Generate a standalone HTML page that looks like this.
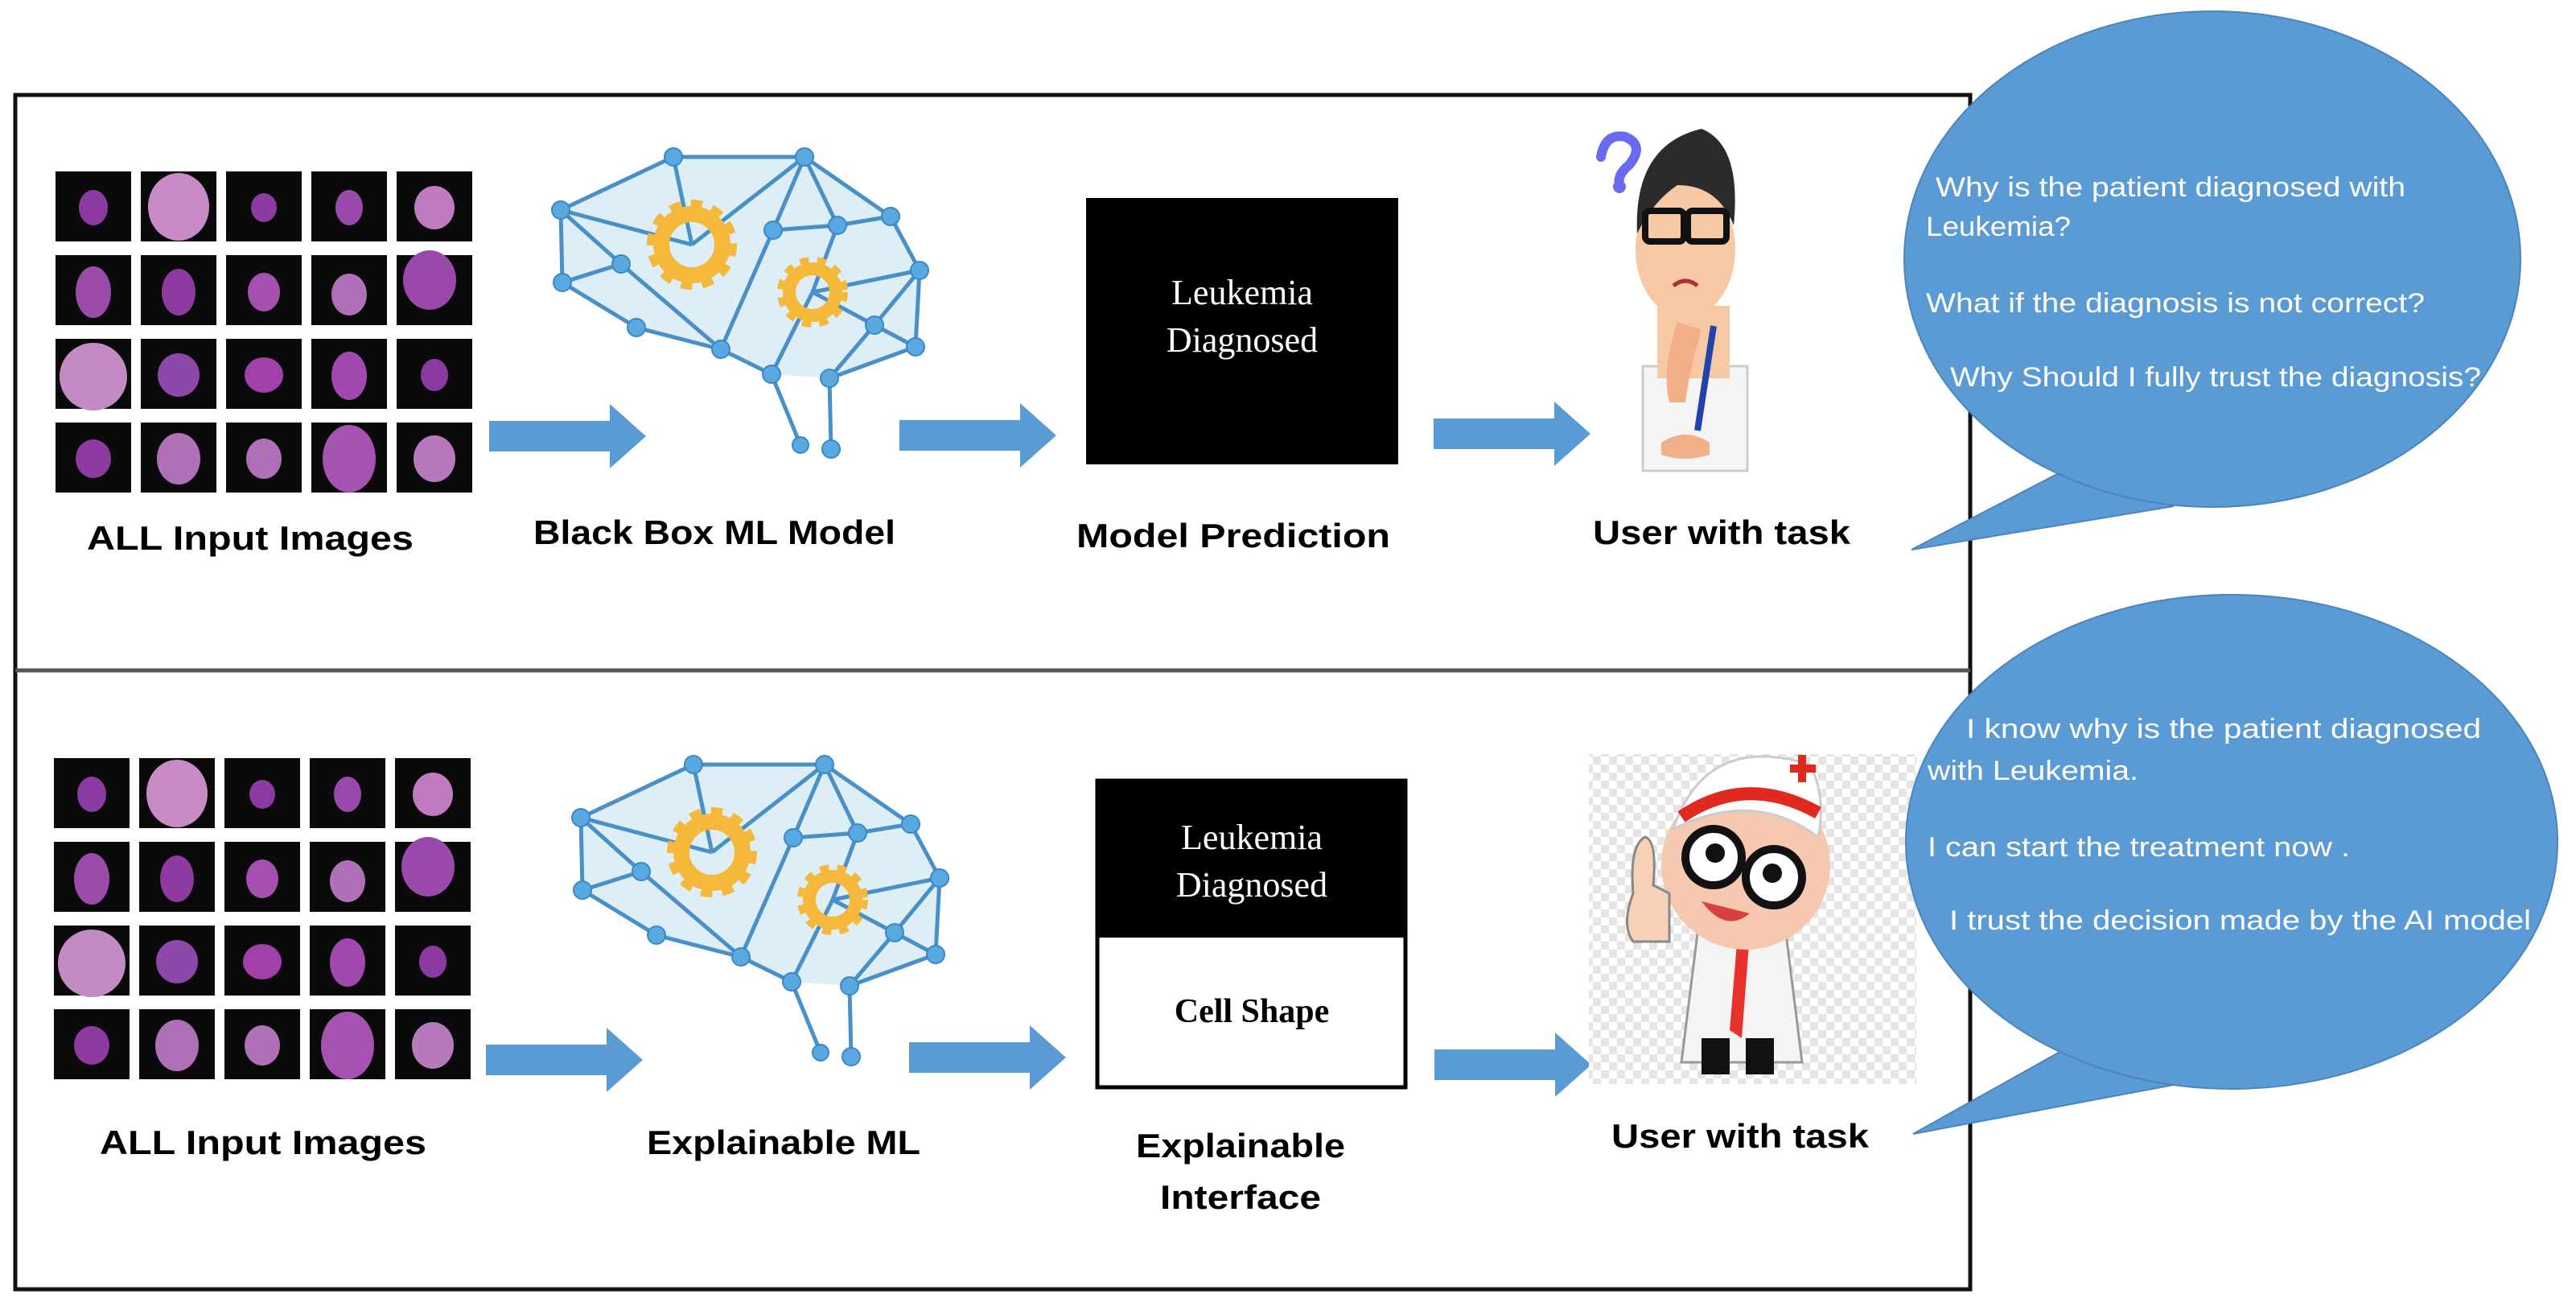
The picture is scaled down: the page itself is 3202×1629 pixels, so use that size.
<!DOCTYPE html>
<html><head><meta charset="utf-8">
<style>html,body{margin:0;padding:0;background:#fff}svg{display:block}</style>
</head><body>
<svg width="3202" height="1629" viewBox="0 0 3202 1629" xmlns="http://www.w3.org/2000/svg" font-family="Liberation Sans, sans-serif">
<defs>
  <g id="arrow"><polygon points="0,-19 150,-19 150,-40 195,0 150,40 150,19 0,19" fill="#5b9bd5"/></g>
  <pattern id="chk" width="20" height="20" patternUnits="userSpaceOnUse">
    <rect width="20" height="20" fill="#fff"/><rect width="10" height="10" fill="#e4e4e4"/><rect x="10" y="10" width="10" height="10" fill="#e4e4e4"/>
  </pattern>
  <g id="grid">
    <g fill="#0a0a0a">
      <rect x="0" y="0" width="94" height="87"/><rect x="106" y="0" width="94" height="87"/><rect x="212" y="0" width="94" height="87"/><rect x="318" y="0" width="94" height="87"/><rect x="424" y="0" width="94" height="87"/>
      <rect x="0" y="104" width="94" height="87"/><rect x="106" y="104" width="94" height="87"/><rect x="212" y="104" width="94" height="87"/><rect x="318" y="104" width="94" height="87"/><rect x="424" y="104" width="94" height="87"/>
      <rect x="0" y="208" width="94" height="87"/><rect x="106" y="208" width="94" height="87"/><rect x="212" y="208" width="94" height="87"/><rect x="318" y="208" width="94" height="87"/><rect x="424" y="208" width="94" height="87"/>
      <rect x="0" y="312" width="94" height="87"/><rect x="106" y="312" width="94" height="87"/><rect x="212" y="312" width="94" height="87"/><rect x="318" y="312" width="94" height="87"/><rect x="424" y="312" width="94" height="87"/>
    </g>
    <g>
      <ellipse cx="47" cy="45" rx="18" ry="22" fill="#8a3aa0"/><ellipse cx="153" cy="44" rx="38" ry="42" fill="#c98ac8"/><ellipse cx="259" cy="45" rx="16" ry="18" fill="#8a3aa0"/><ellipse cx="365" cy="45" rx="17" ry="22" fill="#9a48aa"/><ellipse cx="471" cy="45" rx="25" ry="27" fill="#c07ac0"/>
      <ellipse cx="47" cy="150" rx="22" ry="32" fill="#9a4aa8"/><ellipse cx="153" cy="150" rx="21" ry="29" fill="#8e3aa0"/><ellipse cx="259" cy="150" rx="20" ry="24" fill="#a550b0"/><ellipse cx="365" cy="153" rx="22" ry="26" fill="#b070b8"/><ellipse cx="465" cy="135" rx="33" ry="37" fill="#9a48aa"/>
      <ellipse cx="47" cy="255" rx="42" ry="42" fill="#c48ac4"/><ellipse cx="153" cy="253" rx="26" ry="27" fill="#8e48aa"/><ellipse cx="259" cy="253" rx="24" ry="22" fill="#a040a8"/><ellipse cx="365" cy="254" rx="22" ry="30" fill="#a04ab0"/><ellipse cx="471" cy="253" rx="17" ry="20" fill="#8a3aa0"/>
      <ellipse cx="47" cy="357" rx="22" ry="24" fill="#8e3aa0"/><ellipse cx="153" cy="357" rx="27" ry="32" fill="#b070b8"/><ellipse cx="259" cy="357" rx="22" ry="25" fill="#b070b8"/><ellipse cx="365" cy="357" rx="33" ry="42" fill="#a552b0"/><ellipse cx="471" cy="357" rx="26" ry="29" fill="#b878bc"/>
    </g>
  </g>
  <g id="brain">
    <polygon points="837,195 1000,195 1107,269 1143,336 1138,431 1031,470 959,465 896,434 791,407 699,351 697,261" fill="#ddeef6"/>
    <g stroke="#4a90c8" stroke-width="5" fill="none">
      <polyline points="697,261 837,195 1000,195 1107,269 1143,336 1138,431 1031,470"/>
      <polyline points="697,261 699,351 791,407 896,434 959,465"/>
      <line x1="697" y1="261" x2="772" y2="328"/><line x1="699" y1="351" x2="772" y2="328"/><line x1="772" y1="328" x2="896" y2="434"/>
      <line x1="837" y1="195" x2="860" y2="304"/><line x1="697" y1="261" x2="860" y2="304"/>
      <line x1="1000" y1="195" x2="961" y2="286"/><line x1="1000" y1="195" x2="1041" y2="280"/><line x1="961" y1="286" x2="1041" y2="280"/><line x1="1041" y1="280" x2="1107" y2="269"/>
      <line x1="961" y1="286" x2="896" y2="434"/><line x1="1041" y1="280" x2="1010" y2="363"/><line x1="1010" y1="363" x2="1087" y2="404"/>
      <line x1="1143" y1="336" x2="1087" y2="404"/><line x1="1087" y1="404" x2="1031" y2="470"/><line x1="1087" y1="404" x2="1138" y2="431"/><line x1="1143" y1="336" x2="1010" y2="363"/>
      <line x1="1000" y1="195" x2="860" y2="304"/><line x1="959" y1="465" x2="1010" y2="363"/>
      <line x1="959" y1="465" x2="995" y2="553"/><line x1="1031" y1="470" x2="1033" y2="558"/>
    </g>
    <g fill="#5aa8e0" stroke="#3a88c8" stroke-width="2">
      <circle cx="837" cy="195" r="11"/><circle cx="1000" cy="195" r="11"/><circle cx="697" cy="261" r="11"/><circle cx="961" cy="286" r="11"/><circle cx="1041" cy="280" r="11"/><circle cx="1107" cy="269" r="11"/><circle cx="772" cy="328" r="11"/><circle cx="699" cy="351" r="11"/><circle cx="1143" cy="336" r="11"/><circle cx="791" cy="407" r="11"/><circle cx="896" cy="434" r="11"/><circle cx="1087" cy="404" r="11"/><circle cx="1138" cy="431" r="11"/><circle cx="959" cy="465" r="11"/><circle cx="1031" cy="470" r="11"/><circle cx="995" cy="553" r="10"/><circle cx="1033" cy="558" r="11"/>
    </g>
    <g fill="none" stroke="#f5b83a">
      <circle cx="860" cy="304" r="38" stroke-width="20"/><circle cx="860" cy="304" r="50" stroke-width="12" stroke-dasharray="14 12"/>
      <circle cx="1010" cy="363" r="29" stroke-width="16"/><circle cx="1010" cy="363" r="39" stroke-width="10" stroke-dasharray="11 10"/>
    </g>
  </g>
</defs>

<!-- outer frame -->
<rect x="19" y="118" width="2430" height="1484" fill="none" stroke="#111" stroke-width="5"/>
<line x1="19" y1="833" x2="2449" y2="833" stroke="#555" stroke-width="5"/>

<!-- top row -->
<use href="#grid" transform="translate(69,213)"/>
<use href="#brain"/>
<use href="#arrow" transform="translate(608,542)"/>
<use href="#arrow" transform="translate(1118,541)"/>
<use href="#arrow" transform="translate(1782,539)"/>
<rect x="1350" y="246" width="388" height="331" fill="#000"/>
<text x="1544" y="378" font-family="Liberation Serif, serif" font-size="44" fill="#fff" text-anchor="middle">Leukemia</text>
<text x="1544" y="437" font-family="Liberation Serif, serif" font-size="44" fill="#fff" text-anchor="middle">Diagnosed</text>

<!-- top doctor -->
<g>
  <path d="M1990,195 q5,-30 30,-25 q25,10 5,35 q-15,12 -12,25" fill="none" stroke="#6a6af0" stroke-width="12" stroke-linecap="round"/>
  <circle cx="2013" cy="232" r="8" fill="#6a6af0"/>
  <path d="M2042,455 h130 v130 h-130 z" fill="#f4f4f4" stroke="#ccc" stroke-width="3"/>
  <path d="M2060,380 h90 v90 h-90 z" fill="#f7c8a4"/>
  <ellipse cx="2095" cy="310" rx="62" ry="85" fill="#f7c8a4"/>
  <path d="M2035,290 q-5,-110 80,-130 q50,20 40,120 q-20,-50 -70,-50 q-30,20 -50,60z" fill="#2b2b2b"/>
  <rect x="2045" y="262" width="48" height="38" rx="6" fill="none" stroke="#111" stroke-width="8"/>
  <rect x="2098" y="262" width="48" height="38" rx="6" fill="none" stroke="#111" stroke-width="8"/>
  <path d="M2080,355 q15,-12 30,0" stroke="#a33" stroke-width="5" fill="none"/>
  <path d="M2085,400 q-20,60 -10,100 l20,0 q5,-40 20,-90z" fill="#f2b08a"/>
  <path d="M2130,405 l-20,130" stroke="#2244aa" stroke-width="8"/>
  <path d="M2065,550 q30,-20 60,0 l0,15 q-30,10 -60,0z" fill="#f2b08a"/>
</g>

<!-- bottom row -->
<use href="#grid" transform="translate(67,942)"/>
<use href="#brain" transform="translate(25,755)"/>
<use href="#arrow" transform="translate(604,1317)"/>
<use href="#arrow" transform="translate(1130,1314)"/>
<use href="#arrow" transform="translate(1783,1323)"/>
<rect x="1364" y="970" width="383" height="381" fill="#fff" stroke="#000" stroke-width="5"/>
<rect x="1364" y="970" width="383" height="195" fill="#000"/>
<text x="1556" y="1055" font-family="Liberation Serif, serif" font-size="44" fill="#fff" text-anchor="middle">Leukemia</text>
<text x="1556" y="1114" font-family="Liberation Serif, serif" font-size="44" fill="#fff" text-anchor="middle">Diagnosed</text>
<text x="1556" y="1270" font-family="Liberation Serif, serif" font-size="42" font-weight="bold" fill="#000" text-anchor="middle">Cell Shape</text>

<!-- bottom doctor -->
<rect x="1975" y="937" width="407" height="410" fill="url(#chk)"/>
<g>
  <path d="M2110,1160 h110 l20,160 h-150z" fill="#f4f4f4" stroke="#999" stroke-width="3"/>
  <path d="M2160,1160 l-10,120 l15,10 l10,-130z" fill="#e8332c"/>
  <rect x="2115" y="1290" width="35" height="45" fill="#111"/><rect x="2170" y="1290" width="35" height="45" fill="#111"/>
  <circle cx="2170" cy="1075" r="105" fill="#f7c8b0"/>
  <path d="M2080,1030 q40,-120 170,-80 q20,40 10,90 q-80,-60 -180,-10z" fill="#fff" stroke="#ccc" stroke-width="3"/>
  <path d="M2090,1015 q80,-55 170,-5" stroke="#e02a20" stroke-width="16" fill="none"/>
  <path d="M2225,950 h10 v-12 h10 v12 h12 v10 h-12 v12 h-10 v-12 h-10z" fill="#e02a20"/>
  <circle cx="2130" cy="1065" r="35" fill="#fff" stroke="#111" stroke-width="10"/>
  <circle cx="2205" cy="1090" r="35" fill="#fff" stroke="#111" stroke-width="10"/>
  <circle cx="2132" cy="1060" r="12" fill="#111"/><circle cx="2203" cy="1085" r="12" fill="#111"/>
  <path d="M2115,1120 q30,40 60,15" fill="#d84040"/>
  <path d="M2030,1110 q-5,-60 15,-70 q15,5 10,60 l20,10 v60 h-45 q-15,-20 0,-60z" fill="#f7d0b8" stroke="#888" stroke-width="3"/>
</g>

<!-- labels -->
<g font-weight="bold" font-size="42" fill="#000" text-anchor="middle">
  <text x="311" y="683" textLength="406" lengthAdjust="spacingAndGlyphs">ALL Input Images</text>
  <text x="888" y="676" textLength="450" lengthAdjust="spacingAndGlyphs">Black Box ML Model</text>
  <text x="1533" y="680" textLength="390" lengthAdjust="spacingAndGlyphs">Model Prediction</text>
  <text x="2140" y="676" textLength="320" lengthAdjust="spacingAndGlyphs">User with task</text>
  <text x="327" y="1434" textLength="406" lengthAdjust="spacingAndGlyphs">ALL Input Images</text>
  <text x="974" y="1434" textLength="340" lengthAdjust="spacingAndGlyphs">Explainable ML</text>
  <text x="1542" y="1438" textLength="260" lengthAdjust="spacingAndGlyphs">Explainable</text>
  <text x="1542" y="1502" textLength="200" lengthAdjust="spacingAndGlyphs">Interface</text>
  <text x="2163" y="1426" textLength="320" lengthAdjust="spacingAndGlyphs">User with task</text>
</g>

<!-- bubbles -->
<g fill="#5b9bd5" stroke="#4a85bb" stroke-width="2">
  <path d="M2559,588 L2376,683 L2702,629 Z"/>
  <ellipse cx="2750" cy="322" rx="383" ry="308"/>
  <path d="M2573,1300 L2378,1409 L2718,1345 Z"/>
  <ellipse cx="2774" cy="1046" rx="405" ry="307"/>
</g>
<g fill="#fff" font-size="34">
  <text x="2406" y="244" textLength="584" lengthAdjust="spacingAndGlyphs">Why is the patient diagnosed with</text>
  <text x="2394" y="293" textLength="180" lengthAdjust="spacingAndGlyphs">Leukemia?</text>
  <text x="2394" y="388" textLength="620" lengthAdjust="spacingAndGlyphs">What if the diagnosis is not correct?</text>
  <text x="2424" y="480" textLength="660" lengthAdjust="spacingAndGlyphs">Why Should I fully trust the diagnosis?</text>
  <text x="2444" y="917" textLength="640" lengthAdjust="spacingAndGlyphs">I  know  why is the patient diagnosed</text>
  <text x="2396" y="969" textLength="262" lengthAdjust="spacingAndGlyphs">with Leukemia.</text>
  <text x="2396" y="1064" textLength="525" lengthAdjust="spacingAndGlyphs">I can start the treatment now .</text>
  <text x="2423" y="1155" textLength="723" lengthAdjust="spacingAndGlyphs">I trust the  decision made by the AI model</text>
</g>
</svg>
</body></html>
